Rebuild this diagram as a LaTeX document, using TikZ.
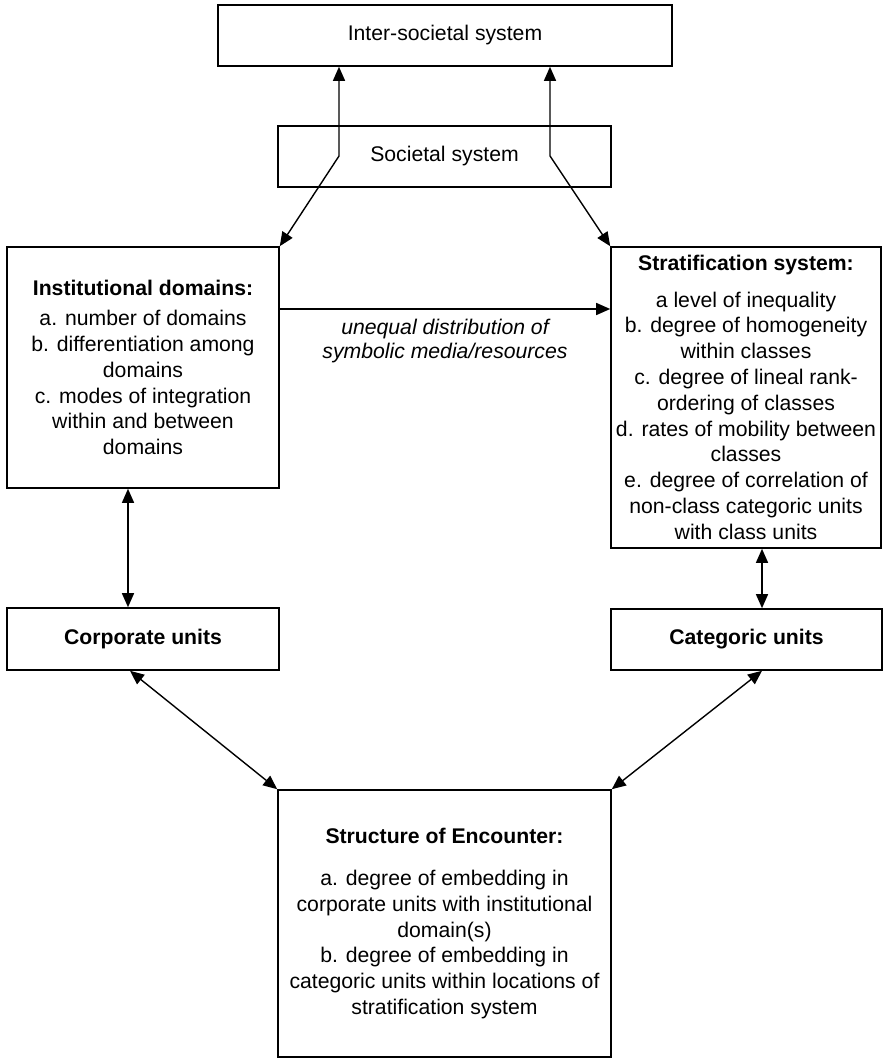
\documentclass[tikz,border=0pt]{standalone}
\usepackage{fontspec}
\setmainfont{Liberation Sans}
\usetikzlibrary{arrows.meta,calc}

\begin{document}
\begin{tikzpicture}[x=0.5pt,y=-0.5pt,
  box/.style={draw=black, line width=0.8pt, inner sep=0pt, align=center,
    font=\fontsize{10.6}{12.9}\selectfont},
  link/.style={line width=0.7pt, {Triangle[length=7pt,width=6pt]}-{Triangle[length=7pt,width=6pt]}},
  onelink/.style={line width=0.7pt, -{Triangle[length=7pt,width=6pt]}},
  tag/.style={font=\fontsize{10.6}{12}\selectfont\itshape, align=center, inner sep=0pt}
]
\useasboundingbox (0,0) rectangle (883,1059);

% boxes
\node[box, minimum width=227pt, minimum height=30.5pt] (inter) at (445,35.5) {\raisebox{-1pt}{Inter-societal system}};
\node[box, minimum width=166.5pt, minimum height=30.5pt] (soc) at (444.5,156.5) {Societal system};
\node[box, minimum width=136pt, minimum height=120.5pt] (inst) at (143,367.5)
  {\textbf{Institutional domains:}\\[2.2pt]
   a. number of domains\\ b. differentiation among\\ domains\\
   c. modes of integration\\ within and between\\ domains};
\node[box, minimum width=135pt, minimum height=150.5pt] (strat) at (746,397.5)
  {\textbf{Stratification system:}\\[5.2pt]
   a level of inequality\\ b. degree of homogeneity\\ within classes\\
   c. degree of lineal rank-\\ ordering of classes\\
   d. rates of mobility between\\ classes\\
   e. degree of correlation of\\ non-class categoric units\\ with class units};
\node[box, minimum width=136pt, minimum height=31pt] (corp) at (143,639) {\textbf{Corporate units}};
\node[box, minimum width=135.5pt, minimum height=30.5pt] (cat) at (746.5,639.5) {\textbf{Categoric units}};
\node[box, minimum width=166.5pt, minimum height=133.5pt] (enc) at (444.5,923.5)
  {\textbf{Structure of Encounter:}\\[8.2pt]
   a. degree of embedding in\\ corporate units with institutional\\ domain(s)\\
   b. degree of embedding in\\ categoric units within locations of\\ stratification system};

% bend points and guide coordinates
\coordinate (bendL) at (339,156);
\coordinate (bendR) at (550,156);
\coordinate (flow) at (445,309);
\coordinate (leftV) at (128,0);
\coordinate (rightV) at (762,0);
\coordinate (corpFoot) at (130,0);

% connectors
\draw[link] (inter.south -| bendL) -- (bendL) -- (inst.north east);
\draw[link] (inter.south -| bendR) -- (bendR) -- (strat.north west);
\draw[onelink] (inst.east |- flow) -- (strat.west |- flow);
\node[tag] (flowlabel) at (445,341) {unequal distribution of\\symbolic media/resources};
\draw[link] (inst.south -| leftV) -- (corp.north -| leftV);
\draw[link] (strat.south -| rightV) -- (cat.north -| rightV);
\draw[link] (corp.south -| corpFoot) -- (enc.north west);
\draw[link] (cat.south -| rightV) -- (enc.north east);
\end{tikzpicture}
\end{document}
